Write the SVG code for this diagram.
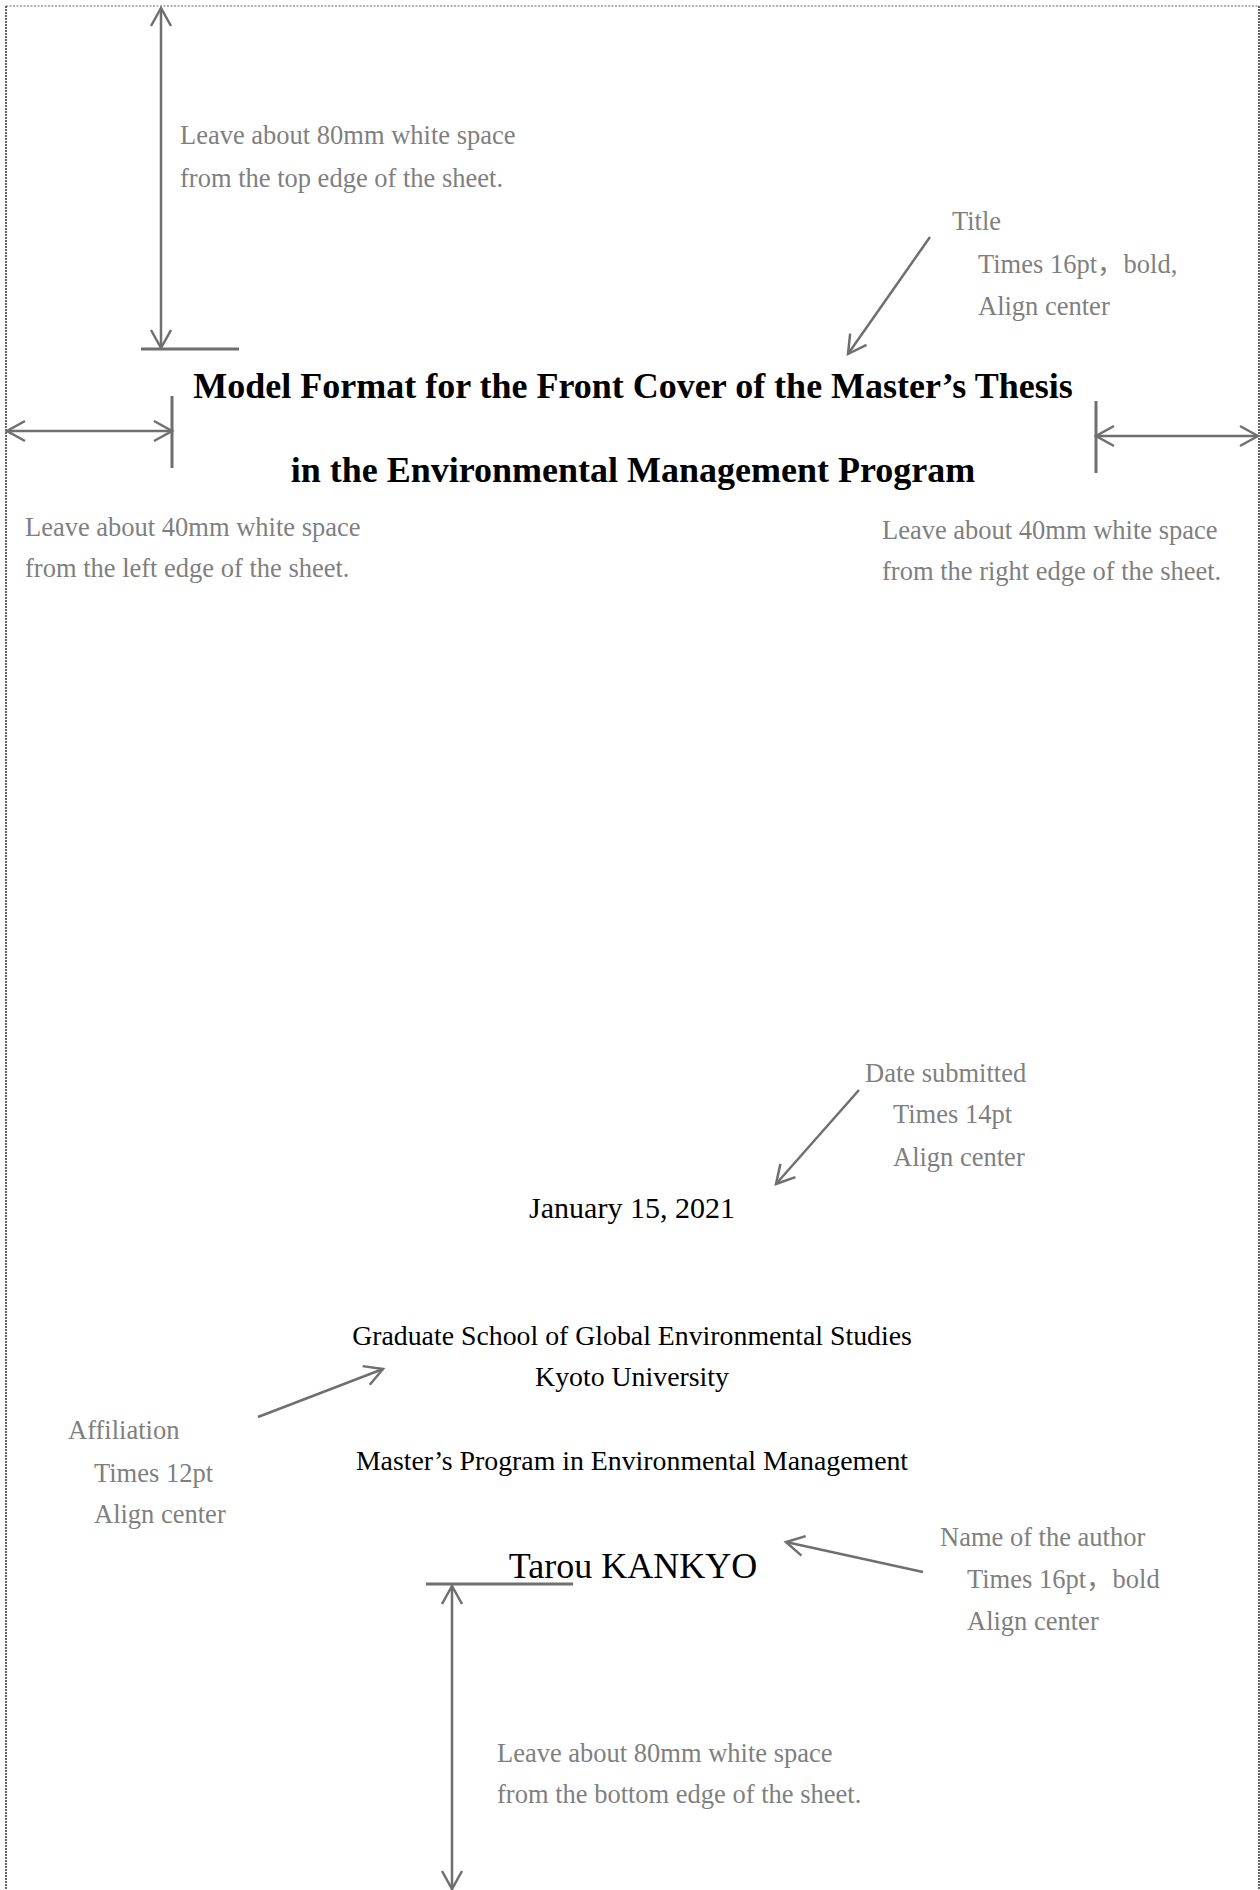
<svg xmlns="http://www.w3.org/2000/svg" width="1260" height="1890" viewBox="0 0 1260 1890">
  <style>
    .note { font-family: "Liberation Serif", "Noto Sans CJK JP", serif; font-size: 26.5px; fill: #7f7f7f; }
    .body { font-family: "Liberation Serif", "Noto Sans CJK JP", serif; fill: #000; text-anchor: middle; }
    .title { font-size: 36px; font-weight: bold; }
    .conn { stroke: #6f6f6f; stroke-width: 2.5; fill: none; }
    .tick { stroke: #6f6f6f; stroke-width: 3; fill: none; }
  </style>
  <defs>
    <marker id="head" viewBox="-22 -13 26 26" markerWidth="26" markerHeight="26" refX="0" refY="0" orient="auto-start-reverse" markerUnits="userSpaceOnUse">
      <path d="M-18,-10 L0,0 L-18,10" fill="none" stroke="#6f6f6f" stroke-width="2.5"/>
    </marker>
  </defs>

  <rect x="0" y="0" width="1260" height="1890" fill="#fff"/>
  <!-- dotted sheet outline -->
  <line x1="6" y1="6" x2="1259" y2="6" stroke="#9a9a9a" stroke-width="1.5" stroke-dasharray="2 1.5"/>
  <line x1="6" y1="6" x2="6" y2="1890" stroke="#333" stroke-width="1.5" stroke-dasharray="2 1"/>
  <line x1="1259" y1="6" x2="1259" y2="1890" stroke="#333" stroke-width="1.5" stroke-dasharray="2 1"/>

  <!-- connectors -->
  <g id="connectors">
    <line class="conn" x1="161" y1="8" x2="161" y2="348" marker-start="url(#head)" marker-end="url(#head)"/>
    <line class="tick" x1="141" y1="349" x2="239" y2="349"/>
    <line class="conn" x1="7" y1="431" x2="172" y2="431" marker-start="url(#head)" marker-end="url(#head)"/>
    <line class="tick" x1="172" y1="396" x2="172" y2="468"/>
    <line class="conn" x1="1096" y1="436" x2="1258" y2="436" marker-start="url(#head)" marker-end="url(#head)"/>
    <line class="tick" x1="1096" y1="401" x2="1096" y2="473"/>
    <line class="conn" x1="930" y1="237" x2="848" y2="354" marker-end="url(#head)"/>
    <line class="conn" x1="859" y1="1090" x2="776" y2="1184" marker-end="url(#head)"/>
    <line class="conn" x1="258" y1="1417" x2="383" y2="1369" marker-end="url(#head)"/>
    <line class="conn" x1="923" y1="1572" x2="786" y2="1542" marker-end="url(#head)"/>
    <line class="tick" x1="426" y1="1584" x2="573" y2="1584"/>
    <line class="conn" x1="452" y1="1586" x2="452" y2="1889" marker-start="url(#head)" marker-end="url(#head)"/>
  </g>

  <g id="note-top">
    <text class="note" x="180" y="144">Leave about 80mm white space</text>
    <text class="note" x="180" y="187">from the top edge of the sheet.</text>
  </g>

  <g id="note-title">
    <text class="note" x="952" y="230">Title</text>
    <text class="note" x="978" y="273">Times 16pt，bold,</text>
    <text class="note" x="978" y="315">Align center</text>
  </g>

  <g id="title">
    <text class="body title" x="633" y="398">Model Format for the Front Cover of the Master’s Thesis</text>
    <text class="body title" x="633" y="482">in the Environmental Management Program</text>
  </g>

  <g id="note-left">
    <text class="note" x="25" y="536">Leave about 40mm white space</text>
    <text class="note" x="25" y="577">from the left edge of the sheet.</text>
  </g>

  <g id="note-right">
    <text class="note" x="882" y="539">Leave about 40mm white space</text>
    <text class="note" x="882" y="580">from the right edge of the sheet.</text>
  </g>

  <g id="note-date">
    <text class="note" x="865" y="1082">Date submitted</text>
    <text class="note" x="893" y="1123">Times 14pt</text>
    <text class="note" x="893" y="1166">Align center</text>
  </g>

  <g id="date">
    <text class="body" x="632" y="1218" font-size="30">January 15, 2021</text>
  </g>

  <g id="affiliation">
    <text class="body" x="632" y="1345" font-size="27.8">Graduate School of Global Environmental Studies</text>
    <text class="body" x="632" y="1386" font-size="27.8">Kyoto University</text>
    <text class="body" x="632" y="1470" font-size="27.8">Master’s Program in Environmental Management</text>
  </g>

  <g id="note-affiliation">
    <text class="note" x="68" y="1439">Affiliation</text>
    <text class="note" x="94" y="1482">Times 12pt</text>
    <text class="note" x="94" y="1523">Align center</text>
  </g>

  <g id="author">
    <text class="body" x="633" y="1578" font-size="36">Tarou KANKYO</text>
  </g>

  <g id="note-author">
    <text class="note" x="940" y="1546">Name of the author</text>
    <text class="note" x="967" y="1588">Times 16pt，bold</text>
    <text class="note" x="967" y="1630">Align center</text>
  </g>

  <g id="note-bottom">
    <text class="note" x="497" y="1762">Leave about 80mm white space</text>
    <text class="note" x="497" y="1803">from the bottom edge of the sheet.</text>
  </g>
</svg>
